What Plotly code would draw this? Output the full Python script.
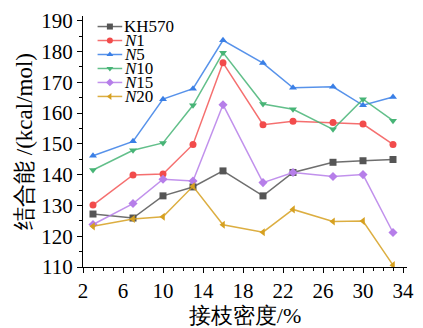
import plotly.graph_objects as go

x_density = [3, 7, 10, 13, 16, 20, 23, 27, 30, 33]
kh570 = [127.2, 125.9, 133.1, 136.0, 141.2, 133.1, 140.7, 144.0, 144.5, 144.9]
n1 = [130.1, 139.9, 140.2, 149.8, 176.3, 156.2, 157.3, 156.9, 156.4, 149.8]
n5 = [146.1, 150.8, 164.5, 167.9, 183.6, 176.2, 168.2, 168.5, 162.5, 165.2]
n10 = [141.5, 147.9, 150.3, 162.5, 179.6, 162.9, 161.2, 154.7, 164.5, 157.5]
n15 = [123.8, 130.6, 138.5, 137.9, 162.7, 137.4, 140.7, 139.4, 140.0, 121.2]
n20 = [123.2, 125.6, 126.3, 136.2, 123.7, 121.3, 128.7, 124.8, 124.9, 110.6]

names = ["KH570", "<i>N</i>1", "<i>N</i>5", "<i>N</i>10", "<i>N</i>15", "<i>N</i>20"]
series = [kh570, n1, n5, n10, n15, n20]
colors = ["#555555", "#f24b4b", "#3a7fe6", "#47b476", "#b67ee9", "#d6a020"]
line_colors = ["rgba(85,85,85,0.85)", "rgba(242,75,75,0.8)", "rgba(58,127,230,0.85)",
               "rgba(71,180,118,0.85)", "rgba(182,126,233,0.85)", "rgba(214,160,32,0.85)"]
symbols = ["square", "circle", "triangle-up", "triangle-down", "diamond", "triangle-left"]

FONT = "Liberation Serif"

# legend layout (fractions of the plot area)
LEG_X0, LEG_X1, LEG_TX = 0.045, 0.121, 0.124
LEG_Y0, LEG_DY = 0.958, 0.0557

fig = go.Figure()
for nm, ys, c, lc, s in zip(names, series, colors, line_colors, symbols):
    fig.add_trace(go.Scatter(
        x=x_density, y=ys, name=nm, mode="lines+markers", showlegend=False,
        line=dict(color=lc, width=1.5),
        marker=dict(symbol=s, size=7, color=c, line=dict(width=0)),
    ))

# compact hand-built legend on an overlay axis in plot-area fractions
for i, (nm, c, lc, s) in enumerate(zip(names, colors, line_colors, symbols)):
    yy = LEG_Y0 - i * LEG_DY
    fig.add_trace(go.Scatter(
        x=[LEG_X0, LEG_X1], y=[yy, yy], xaxis="x2", yaxis="y2", mode="lines",
        showlegend=False, hoverinfo="skip", line=dict(color=lc, width=1.5),
    ))
    fig.add_trace(go.Scatter(
        x=[(LEG_X0 + LEG_X1) / 2], y=[yy], xaxis="x2", yaxis="y2", mode="markers",
        showlegend=False, hoverinfo="skip",
        marker=dict(symbol=s, size=6, color=c, line=dict(width=0)),
    ))
    fig.add_annotation(
        x=LEG_TX, y=yy, xref="x2", yref="y2", text=nm, showarrow=False,
        xanchor="left", yanchor="middle", borderpad=0,
        font=dict(size=17, family=FONT, color="black"),
    )

fig.update_layout(
    width=423, height=328,
    margin=dict(l=83, r=9, t=13, b=53),
    paper_bgcolor="white", plot_bgcolor="white",
    font=dict(family=FONT, color="black", size=18),
    showlegend=False,
    xaxis=dict(
        range=[2, 34.4], tickmode="array", tickvals=[2, 6, 10, 14, 18, 22, 26, 30, 34],
        showline=True, linecolor="black", linewidth=1, mirror=False,
        ticks="outside", ticklen=5, tickcolor="black",
        minor=dict(dtick=1, tick0=2, ticks="outside", ticklen=3, tickcolor="black"),
        showgrid=False, zeroline=False,
        tickfont=dict(size=21, family=FONT),
        title=dict(text="接枝密度/%", font=dict(size=22, family=FONT), standoff=0),
    ),
    yaxis=dict(
        range=[110, 191.5], tickmode="array", tickvals=[110, 120, 130, 140, 150, 160, 170, 180, 190],
        showline=True, linecolor="black", linewidth=1, mirror=False,
        ticks="outside", ticklen=5, tickcolor="black",
        minor=dict(dtick=5, tick0=110, ticks="outside", ticklen=3, tickcolor="black"),
        showgrid=False, zeroline=False,
        tickfont=dict(size=21, family=FONT),
        title=dict(text="结合能 /(kcal/mol)", font=dict(size=23, family=FONT), standoff=2),
    ),
    xaxis2=dict(range=[0, 1], overlaying="x", visible=False, fixedrange=True),
    yaxis2=dict(range=[0, 1], overlaying="y", visible=False, fixedrange=True),
)

fig.write_html("out.html")
